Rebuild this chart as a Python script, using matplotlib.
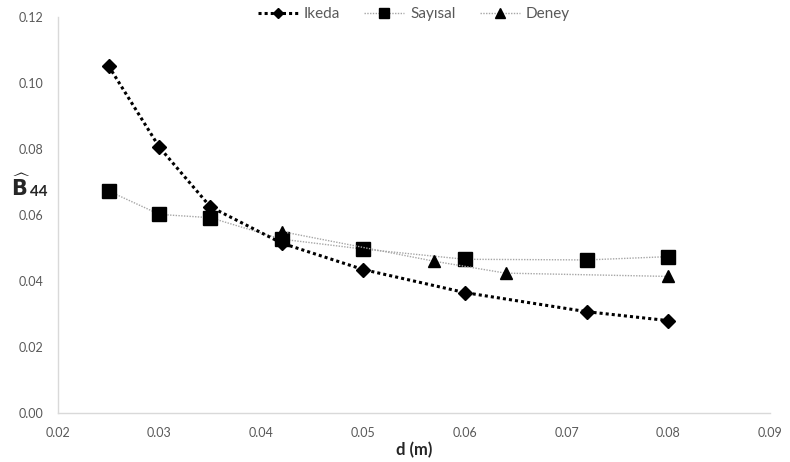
import matplotlib
matplotlib.use('Agg')
import matplotlib.pyplot as plt

plt.rcParams['font.family'] = ['Lato', 'DejaVu Sans']

# series
ikeda_d = [0.025, 0.030, 0.035, 0.042, 0.050, 0.060, 0.072, 0.080]
ikeda_b = [0.1052, 0.0805, 0.0625, 0.0515, 0.0435, 0.0365, 0.0307, 0.0280]

sayisal_d = [0.025, 0.030, 0.035, 0.042, 0.050, 0.060, 0.072, 0.080]
sayisal_b = [0.0673, 0.0602, 0.0592, 0.0527, 0.0497, 0.0466, 0.0464, 0.0474]

deney_d = [0.042, 0.057, 0.064, 0.080]
deney_b = [0.0550, 0.0460, 0.0424, 0.0414]

xticks = [0.02, 0.03, 0.04, 0.05, 0.06, 0.07, 0.08, 0.09]
yticks = [0.00, 0.02, 0.04, 0.06, 0.08, 0.10, 0.12]

fig = plt.figure(figsize=(7.9, 4.62), dpi=100)
ax = fig.add_axes([0.073, 0.106, 0.902, 0.857])

ax.plot(ikeda_d, ikeda_b, color='black', linestyle=(0, (1, 1)), linewidth=2.2,
        marker='D', markersize=7, label='Ikeda', zorder=3)
ax.plot(sayisal_d, sayisal_b, color='#a6a6a6', linestyle=(0, (1, 1)), linewidth=1.0,
        marker='s', markersize=10, markerfacecolor='black', markeredgecolor='black',
        label='Sayısal', zorder=2)
ax.plot(deney_d, deney_b, color='#a6a6a6', linestyle=(0, (1, 1)), linewidth=1.0,
        marker='^', markersize=9, markerfacecolor='black', markeredgecolor='black',
        label='Deney', zorder=2)

ax.set_xlim(0.02, 0.09)
ax.set_ylim(0.0, 0.12)
ax.set_xticks(xticks)
ax.set_yticks(yticks)
ax.set_xticklabels(['%.2f' % v for v in xticks])
ax.set_yticklabels(['%.2f' % v for v in yticks])
ax.tick_params(length=0, labelsize=9, colors='#595959', pad=10)

for s in ['top', 'right']:
    ax.spines[s].set_visible(False)
for s in ['left', 'bottom']:
    ax.spines[s].set_color('#d9d9d9')
    ax.spines[s].set_linewidth(1)

ax.set_xlabel('d (m)', fontsize=12, fontweight='bold', color='#262626', labelpad=2)

# y label: bold B with a hat, "44" beside it
fig.text(0.014, 0.575, r'$\widehat{\mathbf{B}}$', fontsize=15, color='#262626',
         va='baseline', ha='left')
fig.text(0.0375, 0.575, '44', fontsize=11, fontweight='bold', color='#262626',
         va='baseline', ha='left')

leg = ax.legend(loc='upper center', bbox_to_anchor=(0.5, 1.06), ncol=3, frameon=False,
                fontsize=11, handlelength=2.6, columnspacing=1.6, handletextpad=0.4,
                markerscale=0.75)
for t in leg.get_texts():
    t.set_color('#595959')

fig.savefig('out.png', dpi=100)
